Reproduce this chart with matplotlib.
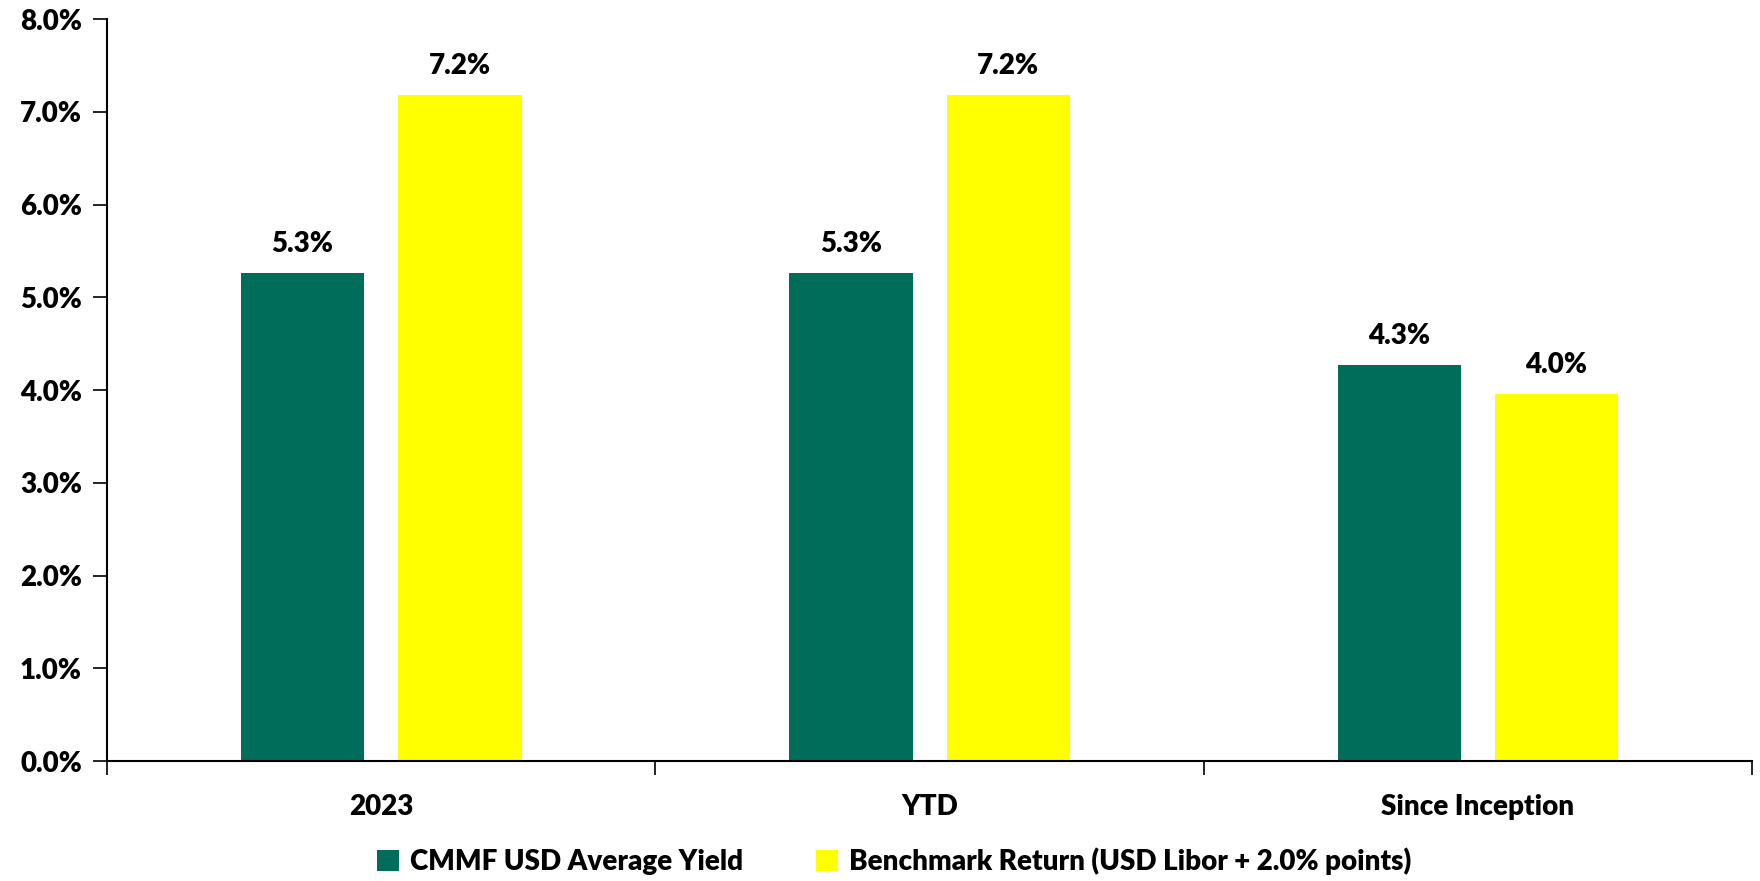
import numpy as np
import matplotlib
matplotlib.use("Agg")
import matplotlib.pyplot as plt
from matplotlib.ticker import FuncFormatter

plt.rcParams['font.family'] = ['Lato', 'DejaVu Sans']
plt.rcParams['font.weight'] = 'heavy'

# rendements par période
periodes = ["2023", "YTD", "Since Inception"]
cmmf = [5.26, 5.26, 4.27]
benchmark = [7.18, 7.18, 3.96]
noms_series = ["CMMF USD Average Yield", "Benchmark Return (USD Libor + 2.0% points)"]
couleurs = ["#006D5B", "#FFFF00"]

fig = plt.figure(figsize=(17.6, 8.81), dpi=100)
ax = fig.add_axes([0.0608, 0.1362, 0.9347, 0.8422])

x = np.arange(len(periodes))
largeur = 0.225
decalage = 0.1435
b1 = ax.bar(x - decalage, cmmf, largeur, color=couleurs[0], label=noms_series[0])
b2 = ax.bar(x + decalage, benchmark, largeur, color=couleurs[1], label=noms_series[1])

# étiquettes de valeur au-dessus des barres
for barres in (b1, b2):
    for b in barres:
        h = b.get_height()
        ax.text(b.get_x() + b.get_width() / 2, h + 0.17, f"{h:.1f}%",
                ha='center', va='bottom', fontsize=20, fontweight='heavy')

ax.set_xlim(-0.5, len(periodes) - 0.5)
ax.set_ylim(0, 8)
ax.set_yticks(np.arange(0, 8.1, 1))
ax.yaxis.set_major_formatter(FuncFormatter(lambda v, p: f"{v:.1f}%"))
ax.set_xticks(x)
ax.set_xticklabels(periodes)
ax.set_xticks(np.arange(-0.5, len(periodes), 1), minor=True)
ax.tick_params(axis='x', which='major', length=0, pad=24, labelsize=20)
ax.tick_params(axis='x', which='minor', length=10, width=1.2, direction='out')
ax.tick_params(axis='y', length=10, width=1.2, direction='out', labelsize=20, pad=8)
for lab in ax.get_xticklabels() + ax.get_yticklabels():
    lab.set_fontweight('heavy')

for s in ['top', 'right']:
    ax.spines[s].set_visible(False)
for s in ['left', 'bottom']:
    ax.spines[s].set_linewidth(1.5)

fig.legend(loc='lower center', bbox_to_anchor=(0.508, -0.022), ncol=2, frameon=False,
           prop={'size': 20, 'weight': 'heavy'}, handlelength=0.8, handleheight=0.8,
           handletextpad=0.4, columnspacing=2.6)

fig.savefig("out.png", dpi=100)
